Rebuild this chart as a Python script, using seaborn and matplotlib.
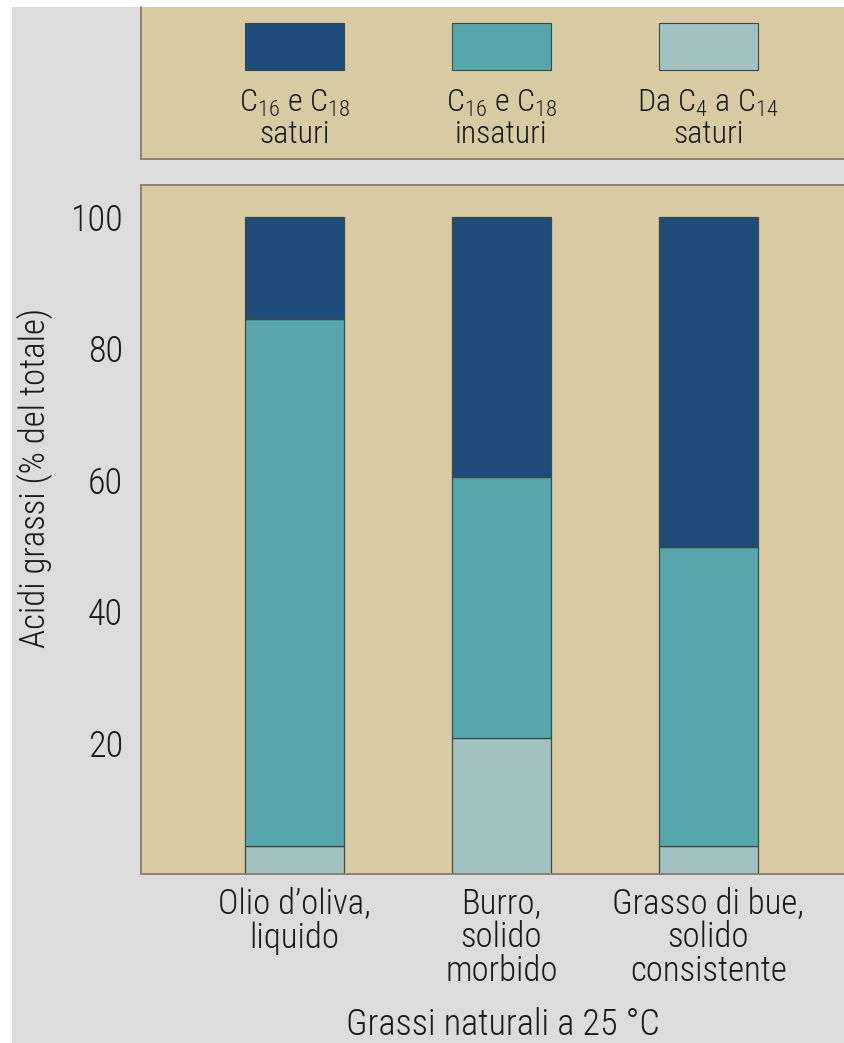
import matplotlib
matplotlib.use("Agg")
import matplotlib.pyplot as plt
import seaborn as sns
import numpy as np
from matplotlib.patches import Rectangle

# dati (percentuale sul totale)
grassi = ["Olio d\u2019oliva,\nliquido", "Burro,\nsolido\nmorbido", "Grasso di bue,\nsolido\nconsistente"]
corti_saturi = [4.3, 20.7, 4.3]          # Da C4 a C14 saturi
c16_c18_insaturi = [80.1, 39.7, 45.4]
c16_c18_saturi = [15.6, 39.6, 50.3]

serie = [
    ("Da $\\mathregular{C_4}$ a $\\mathregular{C_{14}}$\nsaturi", corti_saturi, "#a2c2c1"),
    ("$\\mathregular{C_{16}}$ e $\\mathregular{C_{18}}$\ninsaturi", c16_c18_insaturi, "#56a6ab"),
    ("$\\mathregular{C_{16}}$ e $\\mathregular{C_{18}}$\nsaturi", c16_c18_saturi, "#1f4b7a"),
]
ordine_legenda = [2, 1, 0]
yticks = [20, 40, 60, 80, 100]

sns.set_theme(style="white")
plt.rcParams["font.family"] = ["Roboto Condensed", "Lato", "DejaVu Sans"]
plt.rcParams["font.weight"] = "light"
plt.rcParams["mathtext.default"] = "regular"

W, H = 844, 1043
fig = plt.figure(figsize=(W / 100, H / 100), dpi=100)
fig.patch.set_facecolor("white")

panel = "#d8cba3"
bordo = "#7d7766"
testo = "#1a1a1a"

def box(x0, y0, x1, y1):
    return [x0 / W, 1 - y1 / H, (x1 - x0) / W, (y1 - y0) / H]

# sfondo grigio (bordo bianco in alto e a sinistra)
sx, sy, sw, sh = box(12, 7, 845, 1044)
fig.patches.append(Rectangle((sx, sy), sw, sh, transform=fig.transFigure,
                             facecolor="#dcdcdc", edgecolor="none", zorder=-10))

# pannello legenda
axl = fig.add_axes(box(141, 7, 845, 159))
axl.set_facecolor(panel)
axl.set_xlim(-0.743, 2.661)
axl.set_ylim(0, 1)
axl.set_xticks([])
axl.set_yticks([])
for s in ["top", "right"]:
    axl.spines[s].set_visible(False)
for s in ["left", "bottom"]:
    axl.spines[s].set_color(bordo)
    axl.spines[s].set_linewidth(1.2)
for pos, idx in enumerate(ordine_legenda):
    label, _, col = serie[idx]
    axl.add_patch(Rectangle((pos - 0.24, 0.585), 0.48, 0.31, facecolor=col,
                            edgecolor="#3a4a4a", linewidth=0.8))
    axl.text(pos, 0.265, label, ha="center", va="center", fontsize=23,
             color=testo, linespacing=1.06)

# grafico principale
ax = fig.add_axes(box(141, 185, 845, 874))
ax.set_facecolor(panel)
base = np.zeros(len(grassi))
for label, valori, col in serie:
    sns.barplot(x=grassi, y=valori, bottom=base, color=col, width=0.48,
                edgecolor="#3a4a4a", linewidth=0.9, saturation=1, ax=ax)
    base = base + np.array(valori)

ax.set_xlim(-0.743, 2.661)
ax.set_ylim(0, 104.8)
ax.set_yticks(yticks)
ax.set_yticklabels([str(t) for t in yticks], fontsize=26, color=testo)
ax.tick_params(axis="y", direction="in", length=9, width=1.2, color=bordo, pad=13)
ax.tick_params(axis="x", length=0, pad=9)
for t in ax.get_xticklabels():
    t.set_fontsize(25)
    t.set_color(testo)
    t.set_linespacing(1.02)
for s in ["right"]:
    ax.spines[s].set_visible(False)
for s in ["left", "bottom", "top"]:
    ax.spines[s].set_color(bordo)
    ax.spines[s].set_linewidth(1.2)

fig.text(35 / W, 1 - 478 / H, "Acidi grassi (% del totale)", rotation=90,
         ha="center", va="center", fontsize=25, color=testo)
fig.text(503 / W, 1 - 1025 / H, "Grassi naturali a 25 \u00b0C",
         ha="center", va="center", fontsize=26, color=testo)

fig.savefig("out.png", dpi=100, facecolor=fig.get_facecolor())
